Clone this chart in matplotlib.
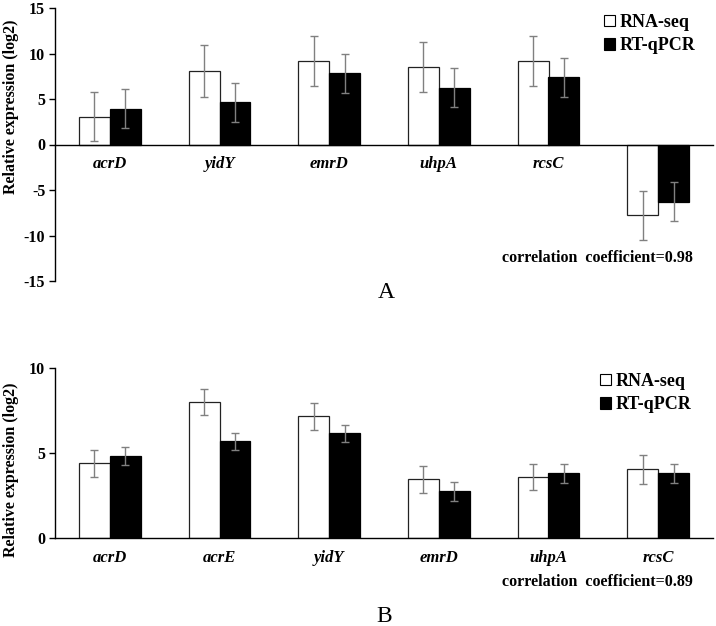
import matplotlib
matplotlib.use("Agg")
import matplotlib.pyplot as plt
from matplotlib.patches import Patch
import numpy as np

plt.rcParams['font.family'] = ['Liberation Serif', 'DejaVu Serif']

# Panel A data
genes_a = ["acrD", "yidY", "emrD", "uhpA", "rcsC", "soxR"]
rna_a = [3.05, 8.05, 9.2, 8.5, 9.2, -7.8]
rna_a_err = [2.7, 2.85, 2.75, 2.75, 2.75, 2.65]
qpcr_a = [3.95, 4.65, 7.85, 6.25, 7.4, -6.3]
qpcr_a_err = [2.15, 2.15, 2.15, 2.15, 2.15, 2.15]
yticks_a = [-15, -10, -5, 0, 5, 10, 15]

# Panel B data
genes_b = ["acrD", "acrE", "yidY", "emrD", "uhpA", "rcsC"]
rna_b = [4.4, 8.0, 7.15, 3.45, 3.6, 4.05]
rna_b_err = [0.8, 0.78, 0.8, 0.8, 0.78, 0.85]
qpcr_b = [4.82, 5.68, 6.15, 2.75, 3.8, 3.8]
qpcr_b_err = [0.55, 0.5, 0.5, 0.55, 0.55, 0.55]
yticks_b = [0, 5, 10]

W, H = 716, 626
fig = plt.figure(figsize=(W / 100, H / 100), dpi=100)

def fx(px):
    return px / W

def fy(py):
    return 1 - py / H

bw = 0.28
ecolor = '#808080'
tick_font = dict(family='Liberation Serif', weight='bold', size=11.5)


def panel(ax, genes, rna, rerr, qpcr, qerr, yticks, ylim, label_y, corr_y, corr_text):
    x = np.arange(len(genes))
    ax.bar(x - bw / 2, rna, bw, color='white', edgecolor='#222222', linewidth=0.9,
           zorder=2)
    ax.bar(x + bw / 2, qpcr, bw, color='black', edgecolor='black', linewidth=0.9,
           zorder=2)
    ax.errorbar(x - bw / 2, rna, yerr=rerr, fmt='none', ecolor=ecolor,
                elinewidth=1.0, capsize=3, capthick=1.0, zorder=3)
    ax.errorbar(x + bw / 2, qpcr, yerr=qerr, fmt='none', ecolor=ecolor,
                elinewidth=1.0, capsize=3, capthick=1.0, zorder=3)
    ax.set_xlim(-0.5, len(genes) - 0.5)
    ax.set_ylim(*ylim)
    ax.set_yticks(yticks)
    ax.set_yticklabels([str(t) for t in yticks], fontdict=tick_font)
    ax.set_xticks([])
    for s in ['top', 'right']:
        ax.spines[s].set_visible(False)
    ax.spines['bottom'].set_position(('data', 0))
    ax.spines['bottom'].set_linewidth(1.0)
    ax.spines['left'].set_linewidth(1.0)
    ax.tick_params(axis='y', direction='out', length=4, width=1.0, pad=3)
    ax.set_ylabel('Relative expression (log2)', fontsize=11.5, fontweight='bold')
    for xi, g in zip(x, genes):
        ax.text(xi, label_y, g, ha='center', va='center', fontsize=12,
                fontstyle='italic', fontweight='bold', zorder=1, clip_on=False)
    ax.text(5.32, corr_y, corr_text, ha='right', va='center',
            fontsize=11.5, fontweight='bold', clip_on=False)
    handles = [Patch(facecolor='white', edgecolor='black', linewidth=0.8),
               Patch(facecolor='black', edgecolor='black', linewidth=0.8)]
    return handles


# Panel A axes: x 55..713 px, y 8..281 px
axA = fig.add_axes([fx(55), fy(281), fx(713) - fx(55), fy(8) - fy(281)])
hA = panel(axA, genes_a, rna_a, rna_a_err, qpcr_a, qpcr_a_err, yticks_a,
           (-15, 15), -2.1, -12.5, 'correlation  coefficient=0.98')
axA.yaxis.set_label_coords(-0.054, 0.64)
axA.legend(hA, ['RNA-seq', 'RT-qPCR'], loc='upper left',
           bbox_to_anchor=(fx(604), fy(14)), bbox_transform=fig.transFigure,
           frameon=False, handlelength=0.6, handleheight=0.6,
           handletextpad=0.25, labelspacing=0.35, borderpad=0, borderaxespad=0,
           prop=dict(family='Liberation Serif', weight='bold', size=13))

# Panel B axes: y 368..538 px
axB = fig.add_axes([fx(55), fy(538), fx(713) - fx(55), fy(368) - fy(538)])
hB = panel(axB, genes_b, rna_b, rna_b_err, qpcr_b, qpcr_b_err, yticks_b,
           (0, 10), -1.15, -2.6, 'correlation  coefficient=0.89')
axB.yaxis.set_label_coords(-0.054, 0.4)
axB.legend(hB, ['RNA-seq', 'RT-qPCR'], loc='upper left',
           bbox_to_anchor=(fx(600), fy(373)), bbox_transform=fig.transFigure,
           frameon=False, handlelength=0.6, handleheight=0.6,
           handletextpad=0.25, labelspacing=0.35, borderpad=0, borderaxespad=0,
           prop=dict(family='Liberation Serif', weight='bold', size=13))

fig.text(fx(386), fy(293), 'A', ha='center', va='center', fontsize=17)
fig.text(fx(384), fy(616), 'B', ha='center', va='center', fontsize=17)

fig.savefig('out.png', dpi=100)
